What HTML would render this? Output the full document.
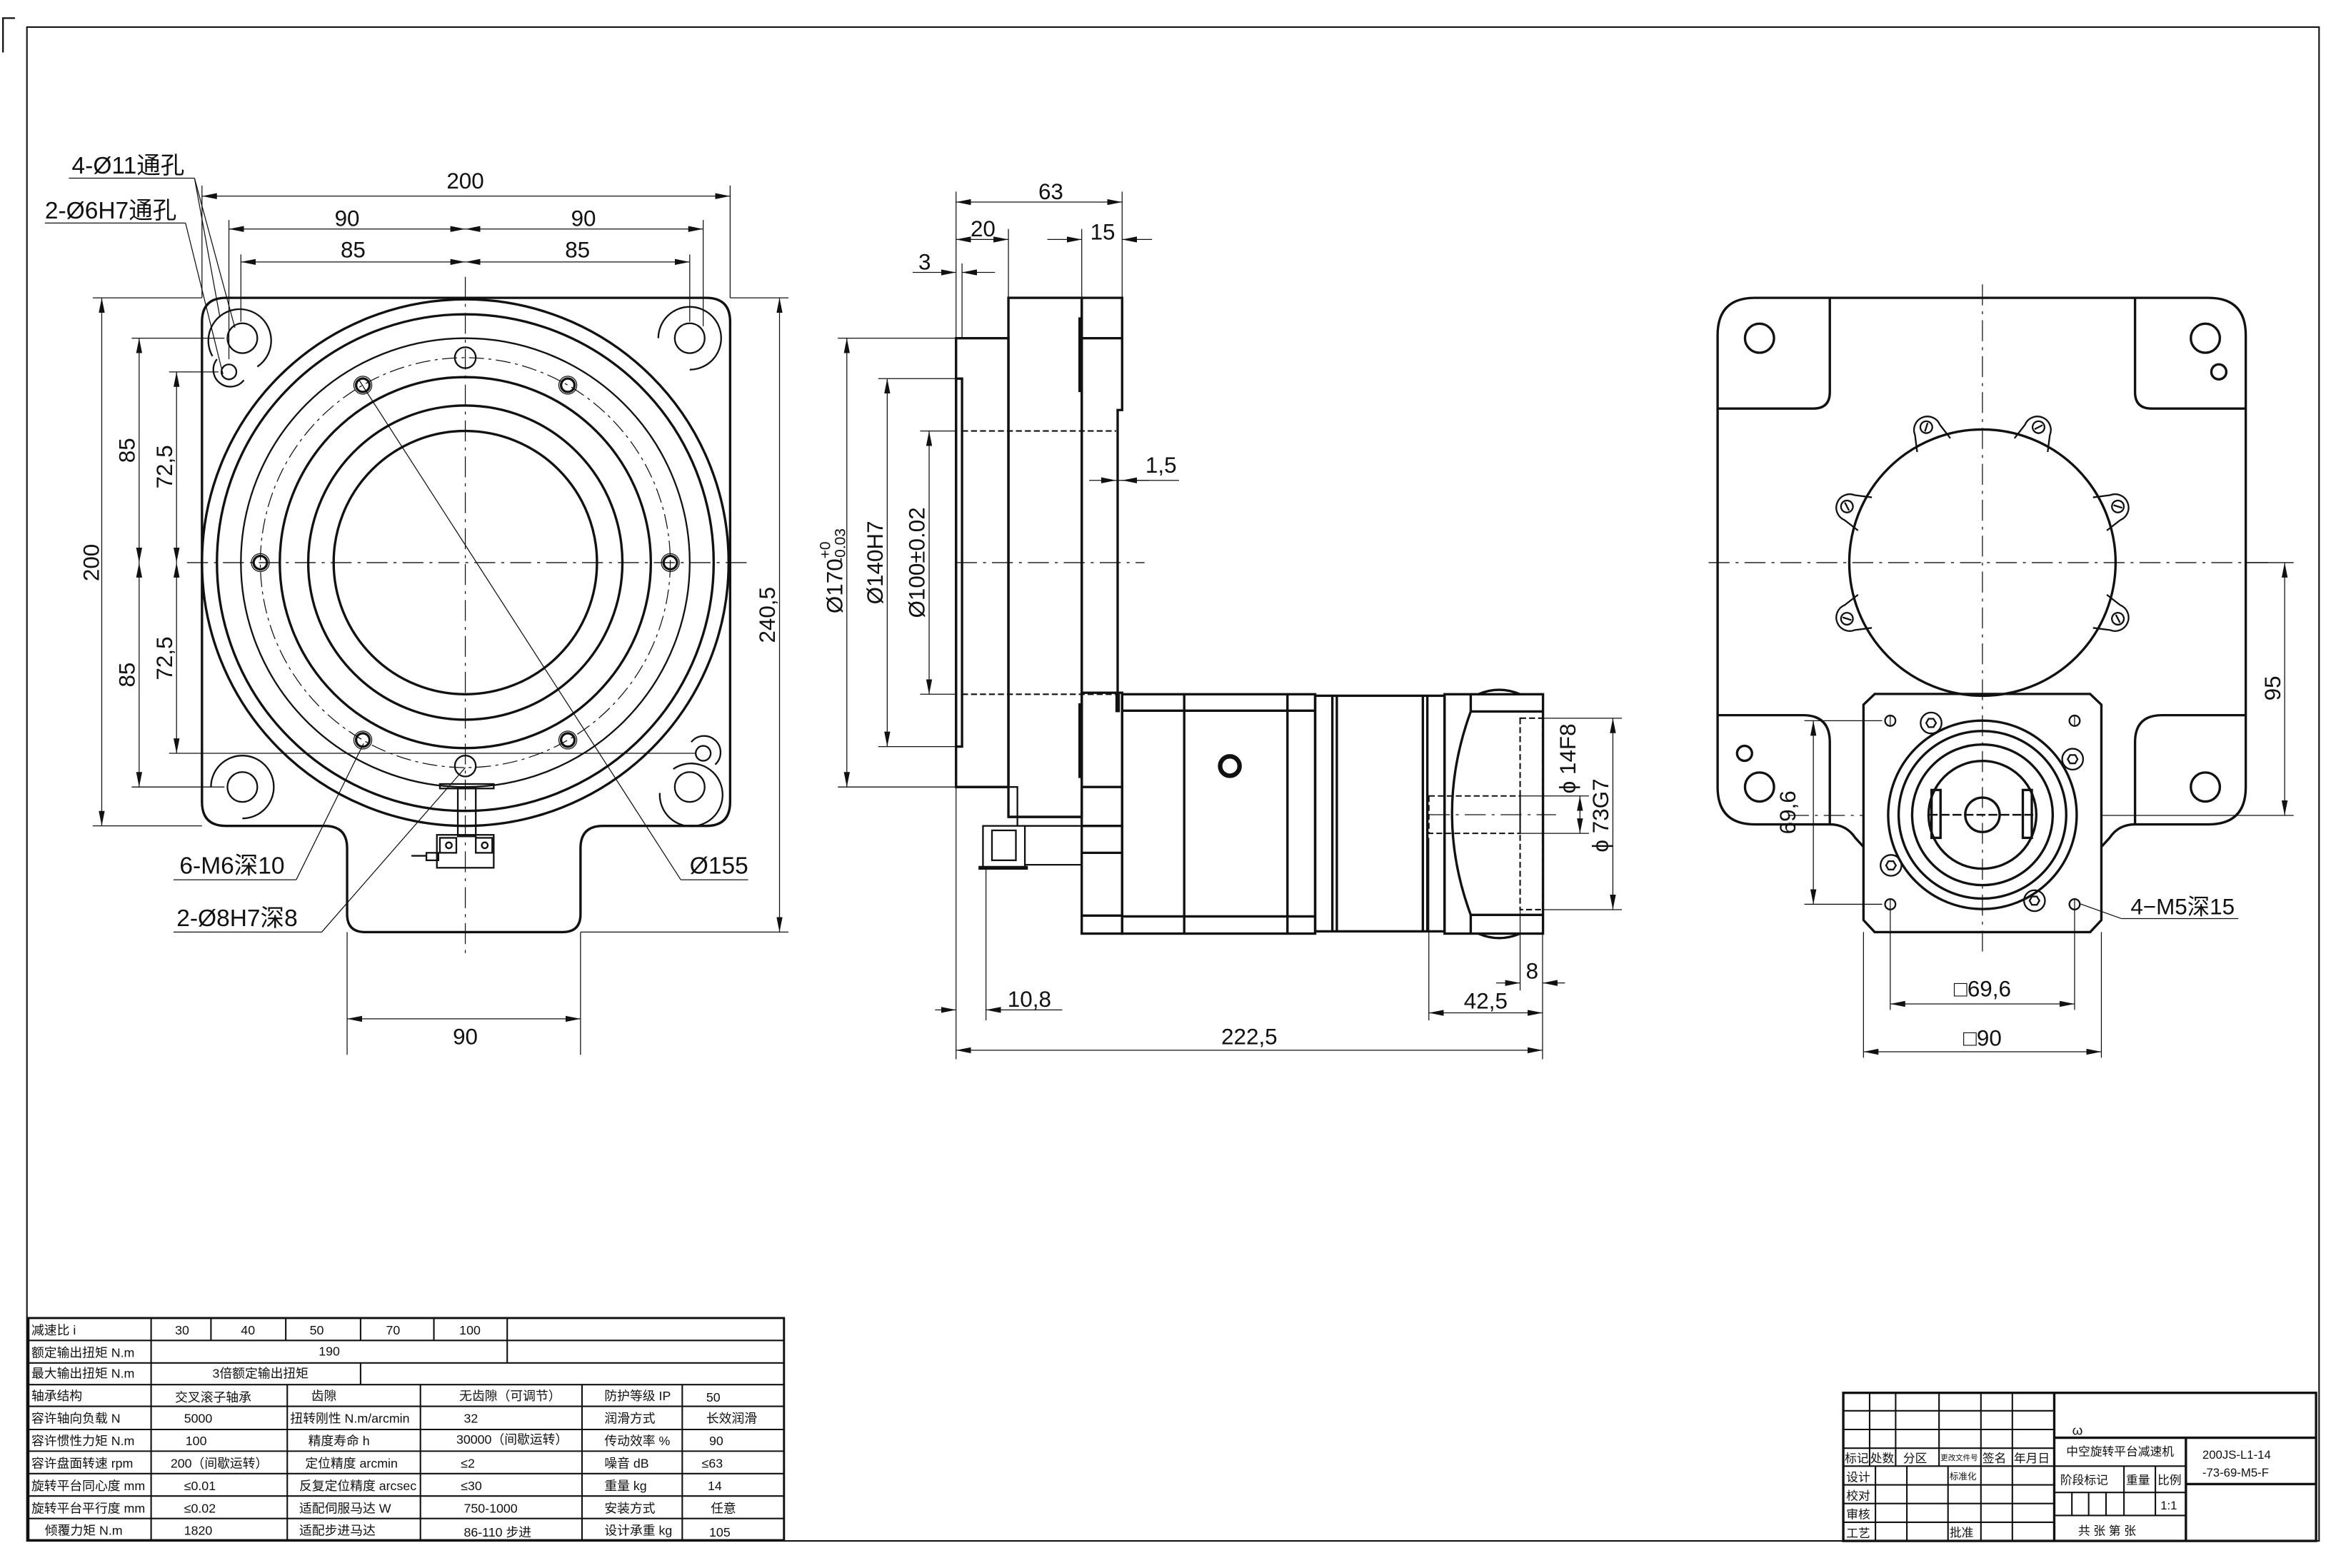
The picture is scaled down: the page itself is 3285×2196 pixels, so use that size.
<!DOCTYPE html>
<html><head><meta charset="utf-8"><style>
html,body{margin:0;padding:0;background:#fff}
svg{display:block}
text{font-family:"Liberation Sans","Noto Sans CJK SC",sans-serif;fill:#111}
.k{fill:none;stroke:#111;stroke-width:1.6}
.m{fill:none;stroke:#111;stroke-width:1.1}
.t{fill:none;stroke:#111;stroke-width:0.6}
.c{fill:none;stroke:#111;stroke-width:0.6;stroke-dasharray:14 4 2 4}
.h{fill:none;stroke:#111;stroke-width:1;stroke-dasharray:4 2}
.d{fill:none;stroke:#111;stroke-width:0.6;marker-start:url(#a);marker-end:url(#a)}
.d1{fill:none;stroke:#111;stroke-width:0.6;marker-end:url(#a)}
.g{fill:none;stroke:#111;stroke-width:1}
.dt{font-size:15px}
.tb{font-size:8.5px}
.tt{font-size:8px}
</style></head><body>
<svg width="3285" height="2196" viewBox="0 0 1568 1048" xmlns="http://www.w3.org/2000/svg">
<defs>
<marker id="a" viewBox="0 0 10 4" refX="10" refY="2" markerWidth="10" markerHeight="4" markerUnits="userSpaceOnUse" orient="auto-start-reverse"><path d="M0,0 L10,2 L0,4 Z" fill="#111"/></marker>
</defs>
<path class="m" d="M2,35 V12 H10"/>
<rect x="18" y="18" width="1532" height="1012" class="g"/>

<!-- LEFT VIEW -->
<path class="k" d="M135,215 Q135,199 151,199 H472 Q488,199 488,215 V536 Q488,552 472,552 H403 Q388,552 388,567 V611 Q388,623 376,623 H244 Q232,623 232,611 V567 Q232,552 217,552 H151 Q135,552 135,536 Z"/>
<line class="c" x1="311" y1="185" x2="311" y2="640"/>
<line class="c" x1="125" y1="376" x2="500" y2="376"/>
<circle cx="311" cy="376" r="176" class="k"/>
<circle cx="311" cy="376" r="166" class="k"/>
<circle cx="311" cy="376" r="150" class="m"/>
<circle cx="311" cy="376" r="137" class="t" stroke-dasharray="10 3 2 3"/>
<circle cx="311" cy="376" r="124" class="k"/>
<circle cx="311" cy="376" r="105" class="k"/>
<circle cx="311" cy="376" r="88" class="k"/>
<g class="k">
<circle cx="448" cy="376" r="4.5"/><circle cx="174" cy="376" r="4.5"/>
<circle cx="379.5" cy="257.4" r="4.5"/><circle cx="242.5" cy="257.4" r="4.5"/>
<circle cx="379.5" cy="494.6" r="4.5"/><circle cx="242.5" cy="494.6" r="4.5"/>
</g>
<g class="t">
<circle cx="448" cy="376" r="6"/><circle cx="174" cy="376" r="6"/>
<circle cx="379.5" cy="257.4" r="6"/><circle cx="242.5" cy="257.4" r="6"/>
<circle cx="379.5" cy="494.6" r="6"/><circle cx="242.5" cy="494.6" r="6"/>
</g>
<circle cx="311" cy="239" r="7" class="m"/>
<circle cx="311" cy="512" r="7" class="m"/>
<g class="m">
<circle cx="162" cy="226" r="10"/><circle cx="461" cy="226" r="10"/>
<circle cx="162" cy="526" r="10"/><circle cx="461" cy="526" r="10"/>
<circle cx="153" cy="248.5" r="5"/><circle cx="470" cy="503.5" r="5"/>
<path d="M142,238 A21,21 0 1 1 172,245"/>
<path d="M440,226 A21,21 0 1 1 461,247"/>
<path d="M141,526 A21,21 0 1 1 162,547"/>
<path d="M450,514 A21,21 0 1 1 441,530"/>
<path d="M145,240 A11,11 0 1 0 163,254"/>
<path d="M478,511 A11,11 0 1 0 462,496"/>
</g>
<g class="m">
<rect x="294" y="524" width="36" height="3"/>
<rect x="306" y="527" width="12" height="32"/>
<rect x="292" y="558" width="38" height="22"/>
<rect x="294" y="560" width="11" height="10"/><circle cx="300" cy="565" r="2"/>
<rect x="318" y="560" width="11" height="10"/><circle cx="324" cy="565" r="2"/>
<rect x="285" y="570" width="8" height="5"/><line x1="275" y1="572" x2="285" y2="572"/>
</g>
<g class="t">
<line x1="135" y1="199" x2="135" y2="124"/><line x1="488" y1="199" x2="488" y2="124"/>
<line x1="153" y1="240" x2="153" y2="147"/><line x1="470" y1="218" x2="470" y2="147"/>
<line x1="161" y1="215" x2="161" y2="170"/><line x1="461" y1="215" x2="461" y2="170"/>
<line x1="135" y1="199" x2="62" y2="199"/><line x1="135" y1="552" x2="62" y2="552"/>
<line x1="150" y1="226" x2="88" y2="226"/><line x1="150" y1="526" x2="88" y2="526"/>
<line x1="146" y1="248.5" x2="113" y2="248.5"/><line x1="465" y1="503.5" x2="113" y2="503.5"/>
<line x1="488" y1="199" x2="527" y2="199"/><line x1="388" y1="623" x2="527" y2="623"/>
<line x1="232" y1="623" x2="232" y2="705"/><line x1="388" y1="623" x2="388" y2="705"/>
</g>
<line class="d" x1="135" y1="131" x2="488" y2="131"/>
<line class="d" x1="153" y1="153" x2="311" y2="153"/><line class="d" x1="311" y1="153" x2="470" y2="153"/>
<line class="d" x1="161" y1="175" x2="311" y2="175"/><line class="d" x1="311" y1="175" x2="461" y2="175"/>
<line class="d" x1="68" y1="199" x2="68" y2="552"/>
<line class="d" x1="93" y1="226" x2="93" y2="376"/><line class="d" x1="93" y1="376" x2="93" y2="526"/>
<line class="d" x1="118" y1="248.5" x2="118" y2="376"/><line class="d" x1="118" y1="376" x2="118" y2="503.5"/>
<line class="d" x1="521" y1="199" x2="521" y2="623"/>
<line class="d" x1="232" y1="681" x2="388" y2="681"/>
<text class="dt" x="311" y="131" text-anchor="middle" dy="-5">200</text>
<text class="dt" x="232" y="151" text-anchor="middle">90</text>
<text class="dt" x="390" y="151" text-anchor="middle">90</text>
<text class="dt" x="236" y="172" text-anchor="middle">85</text>
<text class="dt" x="386" y="172" text-anchor="middle">85</text>
<text class="dt" transform="translate(66,376) rotate(-90)" text-anchor="middle">200</text>
<text class="dt" transform="translate(90,301) rotate(-90)" text-anchor="middle">85</text>
<text class="dt" transform="translate(90,451) rotate(-90)" text-anchor="middle">85</text>
<text class="dt" transform="translate(115,312) rotate(-90)" text-anchor="middle">72,5</text>
<text class="dt" transform="translate(115,440) rotate(-90)" text-anchor="middle">72,5</text>
<text class="dt" transform="translate(518,411) rotate(-90)" text-anchor="middle">240,5</text>
<text class="dt" x="311" y="698" text-anchor="middle">90</text>
<g class="t">
<line x1="46" y1="119" x2="130" y2="119"/><line x1="130" y1="119" x2="157" y2="219"/>
<line x1="30" y1="149" x2="124" y2="149"/><line x1="124" y1="149" x2="149" y2="250"/>
<line x1="130" y1="119" x2="147" y2="212"/>
<line x1="116" y1="588" x2="198" y2="588"/><line x1="198" y1="588" x2="243" y2="497"/>
<line x1="116" y1="623" x2="215" y2="623"/><line x1="215" y1="623" x2="311" y2="513"/>
<line x1="455" y1="588" x2="500" y2="588"/><line x1="455" y1="588" x2="240" y2="254"/>
</g>
<text x="48" y="116" style="font-size:16px">4-Ø11通孔</text>
<text x="30" y="146" style="font-size:16px">2-Ø6H7通孔</text>
<text x="120" y="584" style="font-size:16px">6-M6深10</text>
<text x="118" y="619" style="font-size:16px">2-Ø8H7深8</text>
<text x="461" y="584" style="font-size:16px">Ø155</text>

<!-- MIDDLE VIEW -->
<g class="k">
<rect x="639" y="226" width="35" height="300"/>
<rect x="674" y="199" width="49" height="347"/>
<path d="M723,199 H750 V274 H747 V463 M723,199 V546"/>
<line x1="723" y1="226" x2="750" y2="226"/>
<rect x="639" y="253" width="4" height="246"/>
<rect x="723" y="463" width="27" height="161"/>
<line x1="723" y1="526" x2="750" y2="526"/><line x1="723" y1="552" x2="750" y2="552"/>
<line x1="723" y1="570" x2="750" y2="570"/><line x1="723" y1="612" x2="750" y2="612"/>
<rect x="750" y="464" width="129" height="160"/>
<line x1="791.5" y1="464" x2="791.5" y2="624"/><line x1="860.5" y1="464" x2="860.5" y2="624"/>
<line x1="750" y1="475" x2="879" y2="475"/><line x1="750" y1="612.5" x2="879" y2="612.5"/>
<rect x="879" y="465" width="86.5" height="157.5"/>
<line x1="890.5" y1="465" x2="890.5" y2="622.5"/><line x1="893.5" y1="465" x2="893.5" y2="622.5"/>
<line x1="951" y1="465" x2="951" y2="622.5"/><line x1="954" y1="465" x2="954" y2="622.5"/>
<rect x="965.5" y="464" width="65.8" height="160"/>
<line x1="983" y1="475.5" x2="1031" y2="475.5"/><line x1="983" y1="611.5" x2="1031" y2="611.5"/>
<line x1="983" y1="464" x2="983" y2="475.5"/><line x1="983" y1="611.5" x2="983" y2="624"/>
<path d="M983,475.5 Q958,544 983,611.5"/>
<path d="M988,464 Q1002,458 1016,464 M988,624 Q1002,630 1016,624"/>
<line x1="639" y1="526" x2="674" y2="526"/>
<line x1="674" y1="546" x2="723" y2="546"/>
</g>
<line x1="747" y1="463" x2="747" y2="476" stroke="#111" stroke-width="3"/>
<line x1="722" y1="212" x2="722" y2="262" stroke="#111" stroke-width="2.5"/>
<line x1="722" y1="470" x2="722" y2="520" stroke="#111" stroke-width="2.5"/>
<circle cx="822" cy="512" r="6.5" fill="none" stroke="#111" stroke-width="3"/>
<g class="m">
<path d="M662,526 H680 V552"/>
<rect x="657" y="552" width="28" height="28"/>
<rect x="663" y="555" width="16" height="20"/>
<line x1="654" y1="580" x2="687" y2="580" stroke-width="2.5"/>
<line x1="685" y1="552" x2="723" y2="552"/><line x1="685" y1="578" x2="723" y2="578"/>
</g>
<g class="h">
<line x1="643" y1="288" x2="746" y2="288"/><line x1="643" y1="464" x2="746" y2="464"/>
<rect x="1016" y="480" width="15" height="128"/>
<rect x="955" y="532" width="61" height="25"/>
</g>
<line class="c" x1="639" y1="376" x2="765" y2="376"/>
<line class="c" x1="955" y1="544.5" x2="1040" y2="544.5"/>
<g class="t">
<line x1="639" y1="226" x2="639" y2="128"/><line x1="750" y1="199" x2="750" y2="128"/>
<line x1="674" y1="199" x2="674" y2="153"/><line x1="723" y1="199" x2="723" y2="153"/>
<line x1="643" y1="226" x2="643" y2="176"/>
<line x1="639" y1="226" x2="560" y2="226"/><line x1="639" y1="526" x2="560" y2="526"/>
<line x1="639" y1="253" x2="587" y2="253"/><line x1="639" y1="499" x2="587" y2="499"/>
<line x1="639" y1="288" x2="615" y2="288"/><line x1="639" y1="464" x2="615" y2="464"/>
<line x1="639" y1="526" x2="639" y2="708"/><line x1="659" y1="580" x2="659" y2="682"/>
<line x1="1031" y1="624" x2="1031" y2="708"/><line x1="955" y1="560" x2="955" y2="682"/>
<line x1="1016" y1="608" x2="1016" y2="662"/>
<line x1="1031" y1="480" x2="1084" y2="480"/><line x1="1031" y1="608" x2="1084" y2="608"/>
<line x1="1016" y1="532" x2="1062" y2="532"/><line x1="1016" y1="557" x2="1062" y2="557"/>
<line x1="746" y1="321" x2="788" y2="321"/>
</g>
<line class="d" x1="639" y1="135" x2="750" y2="135"/>
<line class="d" x1="639" y1="160" x2="674" y2="160"/>
<line class="d1" x1="700" y1="160" x2="723" y2="160"/><line class="d1" x1="770" y1="160" x2="750" y2="160"/>
<line class="d1" x1="610" y1="182" x2="639" y2="182"/><line class="d1" x1="665" y1="182" x2="643" y2="182"/>
<line class="d1" x1="728" y1="321" x2="746" y2="321"/><line class="d1" x1="768" y1="321" x2="750" y2="321"/>
<line class="d" x1="566" y1="226" x2="566" y2="526"/>
<line class="d" x1="593" y1="253" x2="593" y2="499"/>
<line class="d" x1="621" y1="288" x2="621" y2="464"/>
<line class="d1" x1="625" y1="675" x2="639" y2="675"/><line class="d1" x1="710" y1="675" x2="659" y2="675"/>
<line class="d" x1="639" y1="702" x2="1031" y2="702"/>
<line class="d" x1="955" y1="677" x2="1031" y2="677"/>
<line class="d1" x1="1000" y1="657" x2="1016" y2="657"/><line class="d1" x1="1046" y1="657" x2="1031" y2="657"/>
<line class="d" x1="1056" y1="532" x2="1056" y2="557"/>
<line class="d" x1="1078" y1="480" x2="1078" y2="608"/>
<text class="dt" x="694" y="133">63</text>
<text class="dt" x="657" y="158" text-anchor="middle">20</text>
<text class="dt" x="737" y="160" text-anchor="middle">15</text>
<text class="dt" x="618" y="180" text-anchor="middle">3</text>
<text class="dt" x="776" y="316" text-anchor="middle">1,5</text>
<text class="dt" transform="translate(563,410) rotate(-90)">Ø170<tspan dy="-8" font-size="10">+0</tspan><tspan dx="-14" dy="10" font-size="10">-0.03</tspan></text>
<text class="dt" transform="translate(590,376) rotate(-90)" text-anchor="middle">Ø140H7</text>
<text class="dt" transform="translate(618,376) rotate(-90)" text-anchor="middle">Ø100±0.02</text>
<text class="dt" x="688" y="673" text-anchor="middle">10,8</text>
<text class="dt" x="835" y="698" text-anchor="middle">222,5</text>
<text class="dt" x="993" y="674" text-anchor="middle">42,5</text>
<text class="dt" x="1024" y="654" text-anchor="middle">8</text>
<text class="dt" transform="translate(1053,507) rotate(-90)" text-anchor="middle">ϕ 14F8</text>
<text class="dt" transform="translate(1075,545) rotate(-90)" text-anchor="middle">ϕ 73G7</text>

<!-- RIGHT VIEW -->
<path class="k" d="M1148,224 Q1148,199 1173,199 H1476 Q1501,199 1501,224 V526 Q1501,551 1476,551 H1427 Q1416,551 1410,560 L1404.5,566 M1245.5,566 L1240,560 Q1234,551 1223,551 H1173 Q1148,551 1148,526 L1148,224"/>
<g class="k">
<path d="M1223,199 V262 Q1223,273 1212,273 H1148"/>
<path d="M1427,199 V262 Q1427,273 1438,273 H1501"/>
<path d="M1148,478 H1205 Q1223,478 1223,496 V551"/>
<path d="M1501,478 H1445 Q1427,478 1427,496 V551"/>
<circle cx="1176" cy="226" r="9.7"/><circle cx="1474" cy="226" r="9.7"/>
<circle cx="1176" cy="526" r="9.7"/><circle cx="1474" cy="526" r="9.7"/>
<circle cx="1483" cy="248.5" r="5"/><circle cx="1166" cy="503.5" r="5"/>
</g>
<g class="m" fill="none">
<g transform="translate(1325,376)">
<g transform="rotate(-112.5)"><path d="M85,-12 L96,-9 A9,9 0 0 1 96,9 L85,12"/><circle cx="98" cy="0" r="4"/><line x1="95" y1="0" x2="101" y2="0" transform="rotate(40 98 0)"/></g>
<g transform="rotate(-67.5)"><path d="M85,-12 L96,-9 A9,9 0 0 1 96,9 L85,12"/><circle cx="98" cy="0" r="4"/><line x1="95" y1="0" x2="101" y2="0" transform="rotate(40 98 0)"/></g>
<g transform="rotate(-157.5)"><path d="M85,-12 L96,-9 A9,9 0 0 1 96,9 L85,12"/><circle cx="98" cy="0" r="4"/><line x1="95" y1="0" x2="101" y2="0" transform="rotate(40 98 0)"/></g>
<g transform="rotate(-22.5)"><path d="M85,-12 L96,-9 A9,9 0 0 1 96,9 L85,12"/><circle cx="98" cy="0" r="4"/><line x1="95" y1="0" x2="101" y2="0" transform="rotate(40 98 0)"/></g>
<g transform="rotate(157.5)"><path d="M85,-12 L96,-9 A9,9 0 0 1 96,9 L85,12"/><circle cx="98" cy="0" r="4"/><line x1="95" y1="0" x2="101" y2="0" transform="rotate(40 98 0)"/></g>
<g transform="rotate(22.5)"><path d="M85,-12 L96,-9 A9,9 0 0 1 96,9 L85,12"/><circle cx="98" cy="0" r="4"/><line x1="95" y1="0" x2="101" y2="0" transform="rotate(40 98 0)"/></g>
</g>
</g>
<circle cx="1325" cy="376" r="89" fill="#fff" class="k"/>
<path class="k" fill="#fff" d="M1253,463.8 H1397 L1404.5,471 V615 L1397,623 H1253 L1245.5,615 V471 Z"/>
<g class="k">
<circle cx="1325" cy="544.6" r="63"/>
<circle cx="1325" cy="544.6" r="56"/>
<circle cx="1325" cy="544.6" r="47"/>
<circle cx="1325" cy="544.6" r="36"/>
<circle cx="1325" cy="544.6" r="11.5"/>
<rect x="1291" y="528" width="6" height="32"/>
<rect x="1352" y="528" width="6" height="32"/>
</g>
<line x1="1289" y1="544.6" x2="1361" y2="544.6" stroke="#111" stroke-width="1.2" stroke-dasharray="6 2"/>
<g class="m">
<circle cx="1263.4" cy="481.7" r="3.5"/><circle cx="1386.6" cy="481.7" r="3.5"/>
<circle cx="1263.4" cy="604.4" r="3.5"/><circle cx="1386.6" cy="604.4" r="3.5"/>
<circle cx="1290.7" cy="483.2" r="7"/><circle cx="1385.3" cy="507.4" r="7"/>
<circle cx="1263.9" cy="578.4" r="7"/><circle cx="1359.8" cy="602" r="7"/>
<polygon points="1294,483.2 1292.3,486 1289,486 1287.4,483.2 1289,480.4 1292.3,480.4"/>
<polygon points="1388.6,507.4 1387,510.2 1383.6,510.2 1382,507.4 1383.6,504.6 1387,504.6"/>
<polygon points="1267.2,578.4 1265.5,581.2 1262.2,581.2 1260.6,578.4 1262.2,575.6 1265.5,575.6"/>
<polygon points="1363.1,602 1361.4,604.8 1358.1,604.8 1356.5,602 1358.1,599.2 1361.4,599.2"/>
</g>
<g class="t">
<line x1="1263.4" y1="478" x2="1263.4" y2="485"/><line x1="1386.6" y1="478" x2="1386.6" y2="485"/>
<line x1="1263.4" y1="601" x2="1263.4" y2="675"/><line x1="1386.6" y1="601" x2="1386.6" y2="675"/>
<line x1="1245.5" y1="623" x2="1245.5" y2="707"/><line x1="1404.5" y1="623" x2="1404.5" y2="707"/>
<line x1="1258" y1="481.7" x2="1206" y2="481.7"/><line x1="1258" y1="604.4" x2="1206" y2="604.4"/>
<line x1="1501" y1="376" x2="1533" y2="376"/><line x1="1404.5" y1="545" x2="1533" y2="545"/>
<line x1="1418" y1="614" x2="1496" y2="614"/><line x1="1418" y1="614" x2="1390" y2="604"/>
</g>
<line class="c" x1="1142" y1="376" x2="1520" y2="376"/>
<line class="c" x1="1325" y1="190" x2="1325" y2="640"/>
<line class="c" x1="1195" y1="545" x2="1245" y2="545"/>
<line class="d" x1="1527" y1="376" x2="1527" y2="545"/>
<line class="d" x1="1212" y1="481.7" x2="1212" y2="604.4"/>
<line class="d" x1="1263.4" y1="671" x2="1386.6" y2="671"/>
<line class="d" x1="1245.5" y1="703" x2="1404.5" y2="703"/>
<text class="dt" transform="translate(1524,460) rotate(-90)" text-anchor="middle">95</text>
<text class="dt" transform="translate(1200,543) rotate(-90)" text-anchor="middle">69,6</text>
<text class="dt" x="1325" y="666" text-anchor="middle">□69,6</text>
<text class="dt" x="1325" y="699" text-anchor="middle">□90</text>
<text x="1424" y="611" style="font-size:15px">4−M5深15</text>

<!-- SPEC TABLE -->
<g class="g">
<rect x="19" y="881" width="505" height="148.5" stroke-width="1.4"/>
<line x1="19" y1="896" x2="524" y2="896"/><line x1="19" y1="911" x2="524" y2="911"/>
<line x1="19" y1="925.5" x2="524" y2="925.5"/><line x1="19" y1="940" x2="524" y2="940"/>
<line x1="19" y1="955.5" x2="524" y2="955.5"/><line x1="19" y1="970" x2="524" y2="970"/>
<line x1="19" y1="985" x2="524" y2="985"/><line x1="19" y1="1000" x2="524" y2="1000"/>
<line x1="19" y1="1015" x2="524" y2="1015"/>
<line x1="101" y1="881" x2="101" y2="1029.5"/>
<line x1="141" y1="881" x2="141" y2="896"/><line x1="191" y1="881" x2="191" y2="896"/>
<line x1="241" y1="881" x2="241" y2="896"/><line x1="290" y1="881" x2="290" y2="896"/>
<line x1="339" y1="881" x2="339" y2="911"/><line x1="241" y1="911" x2="241" y2="925.5"/>
<line x1="192" y1="925.5" x2="192" y2="1029.5"/><line x1="281" y1="925.5" x2="281" y2="1029.5"/>
<line x1="389" y1="925.5" x2="389" y2="1029.5"/><line x1="456" y1="925.5" x2="456" y2="1029.5"/>
</g>
<g class="tb">
<text x="21" y="892">减速比 i</text><text x="117" y="892">30</text><text x="161" y="892">40</text><text x="207" y="892">50</text><text x="258" y="892">70</text><text x="307" y="892">100</text>
<text x="21" y="907">额定输出扭矩 N.m</text><text x="213" y="906">190</text>
<text x="21" y="921">最大输出扭矩 N.m</text><text x="142" y="921">3倍额定输出扭矩</text>
<text x="21" y="936">轴承结构</text><text x="117" y="937">交叉滚子轴承</text><text x="208" y="936">齿隙</text><text x="307" y="936">无齿隙（可调节）</text><text x="404" y="936">防护等级 IP</text><text x="472" y="937">50</text>
<text x="21" y="951">容许轴向负载 N</text><text x="123" y="951">5000</text><text x="194" y="951">扭转刚性 N.m/arcmin</text><text x="310" y="951">32</text><text x="404" y="951">润滑方式</text><text x="472" y="951">长效润滑</text>
<text x="21" y="966">容许惯性力矩 N.m</text><text x="124" y="966">100</text><text x="206" y="966">精度寿命 h</text><text x="305" y="965">30000（间歇运转）</text><text x="404" y="966">传动效率 %</text><text x="474" y="966">90</text>
<text x="21" y="981">容许盘面转速 rpm</text><text x="114" y="981">200（间歇运转）</text><text x="204" y="981">定位精度 arcmin</text><text x="308" y="981">≤2</text><text x="404" y="981">噪音 dB</text><text x="469" y="981">≤63</text>
<text x="21" y="996">旋转平台同心度 mm</text><text x="123" y="996">≤0.01</text><text x="200" y="996">反复定位精度 arcsec</text><text x="308" y="996">≤30</text><text x="404" y="996">重量 kg</text><text x="473" y="996">14</text>
<text x="21" y="1011">旋转平台平行度 mm</text><text x="123" y="1011">≤0.02</text><text x="200" y="1011">适配伺服马达 W</text><text x="310" y="1011">750-1000</text><text x="404" y="1011">安装方式</text><text x="475" y="1011">任意</text>
<text x="30" y="1026">倾覆力矩 N.m</text><text x="123" y="1026">1820</text><text x="200" y="1026">适配步进马达</text><text x="310" y="1027">86-110 步进</text><text x="404" y="1026">设计承重 kg</text><text x="474" y="1027">105</text>
</g>

<!-- TITLE BLOCK -->
<g class="g">
<rect x="1232" y="931" width="316" height="99" stroke-width="1.6"/>
<line x1="1232" y1="943" x2="1373" y2="943"/><line x1="1232" y1="955.5" x2="1373" y2="955.5"/>
<line x1="1232" y1="968" x2="1373" y2="968"/><line x1="1232" y1="980" x2="1373" y2="980"/>
<line x1="1232" y1="992.5" x2="1373" y2="992.5"/><line x1="1232" y1="1005" x2="1373" y2="1005"/>
<line x1="1232" y1="1017.5" x2="1373" y2="1017.5"/>
<line x1="1249.6" y1="931" x2="1249.6" y2="980"/><line x1="1267" y1="931" x2="1267" y2="980"/>
<line x1="1296" y1="931" x2="1296" y2="980"/><line x1="1324" y1="931" x2="1324" y2="1030"/>
<line x1="1345" y1="931" x2="1345" y2="1030"/>
<line x1="1253.5" y1="980" x2="1253.5" y2="1030"/><line x1="1274.5" y1="980" x2="1274.5" y2="1030"/>
<line x1="1302" y1="980" x2="1302" y2="1030"/>
<line x1="1373" y1="931" x2="1373" y2="1030" stroke-width="1.6"/>
<line x1="1373" y1="961" x2="1548" y2="961" stroke-width="1.6"/>
<line x1="1461" y1="961" x2="1461" y2="1030" stroke-width="1.6"/>
<line x1="1461" y1="992" x2="1548" y2="992" stroke-width="1.6"/>
<line x1="1373" y1="980" x2="1461" y2="980"/>
<line x1="1373" y1="997.6" x2="1461" y2="997.6"/>
<line x1="1373" y1="1013" x2="1461" y2="1013"/>
<line x1="1419.6" y1="980" x2="1419.6" y2="1013"/><line x1="1440.6" y1="980" x2="1440.6" y2="1013"/>
<line x1="1384.8" y1="997.6" x2="1384.8" y2="1013"/><line x1="1396" y1="997.6" x2="1396" y2="1013"/>
<line x1="1407.6" y1="997.6" x2="1407.6" y2="1013"/>
</g>
<g class="tt">
<text x="1233" y="977.5">标记</text><text x="1250" y="977.5">处数</text><text x="1272" y="977.5">分区</text>
<text x="1297" y="976" style="font-size:5px">更改文件号</text><text x="1325" y="977.5">签名</text><text x="1346" y="977.5">年月日</text>
<text x="1234" y="990">设计</text><text x="1234" y="1002.5">校对</text><text x="1234" y="1015">审核</text><text x="1234" y="1027.5">工艺</text>
<text x="1303" y="989" style="font-size:6px">标准化</text><text x="1303" y="1027">批准</text>
<text x="1417" y="973" text-anchor="middle">中空旋转平台减速机</text>
<text x="1377" y="992">阶段标记</text><text x="1421" y="992">重量</text><text x="1442" y="992">比例</text>
<text x="1444" y="1009">1:1</text>
<text x="1389" y="1026">共  张 第  张</text>
<text x="1472" y="975">200JS-L1-14</text>
<text x="1472" y="987">-73-69-M5-F</text>
<text x="1385" y="959" style="font-size:9px">ω</text>
</g>
</svg>
</body></html>
